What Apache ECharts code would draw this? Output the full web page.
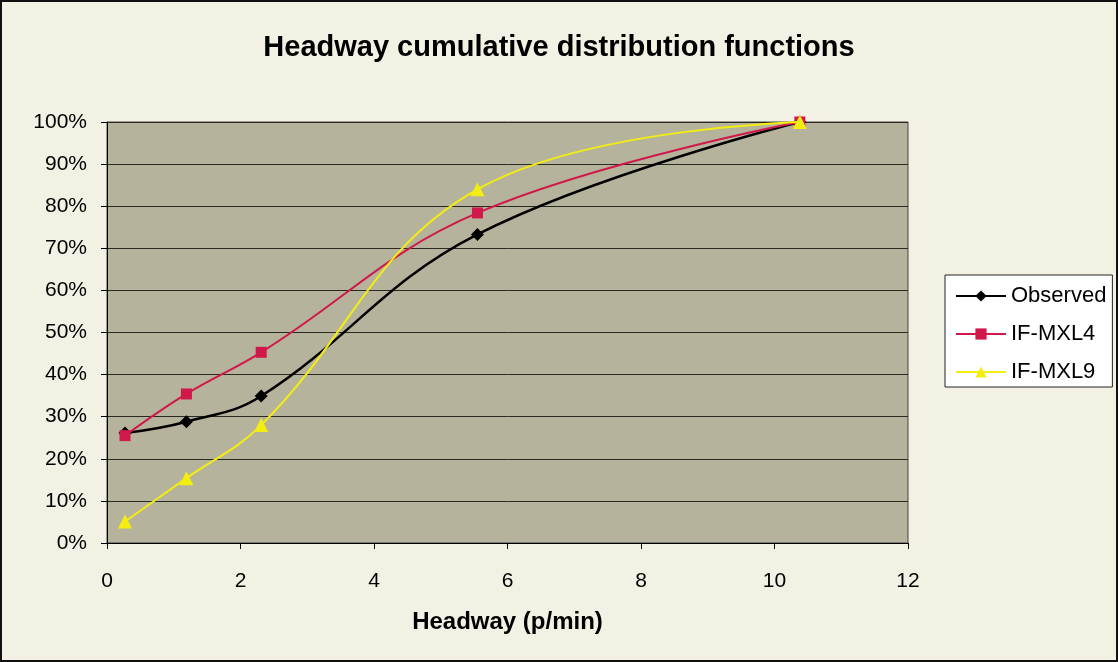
<!DOCTYPE html>
<html>
<head>
<meta charset="utf-8">
<script src="https://cdn.jsdelivr.net/npm/echarts@6/dist/echarts.min.js"></script>
<style>
  html, body { margin: 0; padding: 0; background: #f3f1e3; }
  #chart { width: 1118px; height: 662px; }
</style>
</head>
<body>
<div id="chart"></div>
<script>
// headway values (p/min), shared by all series
let headway = [0.27, 1.19, 2.31, 5.55, 10.38];
// cumulative share in %
let observed = [26.1, 28.8, 34.9, 73.3, 100];
let ifMxl4 = [25.5, 35.4, 45.3, 78.4, 100];
let ifMxl9 = [5.1, 15.4, 28, 84, 100];

let seriesNames = ['Observed', 'IF-MXL4', 'IF-MXL9'];

function pairs(ys) {
  return headway.map(function (x, i) { return [x, ys[i]]; });
}

let chart = echarts.init(document.getElementById('chart'));
let font = 'Liberation Sans, Arial, sans-serif';

chart.setOption({
  backgroundColor: '#f3f1e3',
  animation: false,
  textStyle: { fontFamily: font },
  title: {
    text: 'Headway cumulative distribution functions',
    left: 'center',
    top: 28,
    textStyle: { fontSize: 29, fontWeight: 'bold', color: '#000', fontFamily: font }
  },
  graphic: [{
    type: 'rect',
    shape: { x: 1, y: 1, width: 1116, height: 660 },
    style: { fill: 'none', stroke: '#111', lineWidth: 2 },
    silent: true
  }],
  legend: {
    orient: 'vertical',
    left: 945,
    top: 275,
    padding: [10, 6, 4, 10],
    itemGap: 16,
    itemWidth: 50,
    itemHeight: 14,
    backgroundColor: '#ffffff',
    borderColor: '#222',
    borderWidth: 1,
    textStyle: { fontSize: 22, color: '#000', fontFamily: font },
    data: seriesNames
  },
  grid: {
    left: 107,
    right: 210,
    top: 122,
    bottom: 119,
    show: true,
    backgroundColor: '#b6b39d',
    borderColor: '#444',
    borderWidth: 1
  },
  xAxis: {
    type: 'value',
    min: 0,
    max: 12,
    interval: 2,
    name: 'Headway (p/min)',
    nameLocation: 'middle',
    nameGap: 67,
    nameTextStyle: { fontSize: 24, fontWeight: 'bold', color: '#000' },
    axisLine: { show: true, onZero: false, lineStyle: { color: '#000', width: 1 } },
    axisTick: { show: true, inside: false, length: 6, lineStyle: { color: '#000' } },
    axisLabel: { fontSize: 21, color: '#000', margin: 28 },
    splitLine: { show: false }
  },
  yAxis: {
    type: 'value',
    min: 0,
    max: 100,
    interval: 10,
    axisLine: { show: true, lineStyle: { color: '#000', width: 1 } },
    axisTick: { show: true, inside: false, length: 6, lineStyle: { color: '#000' } },
    axisLabel: { fontSize: 21, color: '#000', margin: 20, formatter: '{value}%' },
    splitLine: { show: true, lineStyle: { color: '#2a2a22', width: 1 } }
  },
  series: [
    {
      name: 'Observed',
      type: 'line',
      smooth: 0.4,
      data: pairs(observed),
      symbol: 'diamond',
      symbolSize: 13,
      itemStyle: { color: '#000000' },
      lineStyle: { color: '#000000', width: 2.5 },
      z: 3
    },
    {
      name: 'IF-MXL4',
      type: 'line',
      smooth: 0.4,
      data: pairs(ifMxl4),
      symbol: 'rect',
      symbolSize: 11,
      itemStyle: { color: '#d0184a' },
      lineStyle: { color: '#d0184a', width: 2 },
      z: 4
    },
    {
      name: 'IF-MXL9',
      type: 'line',
      smooth: 0.4,
      data: pairs(ifMxl9),
      symbol: 'triangle',
      symbolSize: 14,
      itemStyle: { color: '#f4ee10' },
      lineStyle: { color: '#f4ee10', width: 2 },
      z: 5
    }
  ]
});
</script>
</body>
</html>
